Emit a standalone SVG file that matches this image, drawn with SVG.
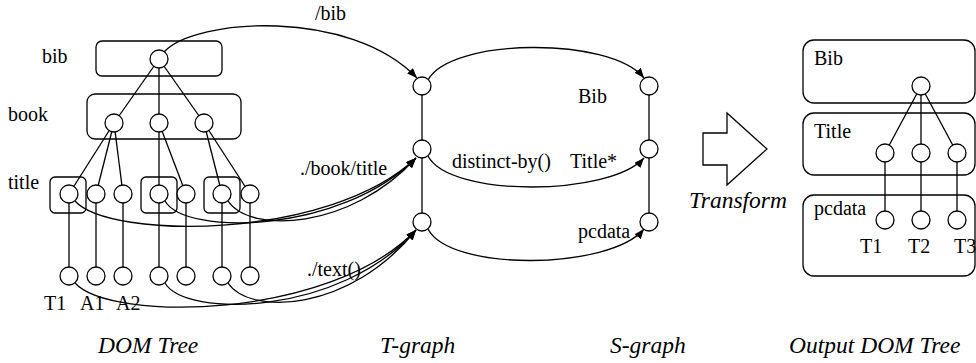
<svg xmlns="http://www.w3.org/2000/svg" width="976" height="363" viewBox="0 0 976 363">
<defs>
<marker id="ah" markerUnits="userSpaceOnUse" markerWidth="12" markerHeight="10" refX="10" refY="4" orient="auto">
<path d="M0,0 L10,4 L0,8 z" fill="#000"/>
</marker>
<style>
.t{font-size:20px;fill:#000}
.c{font-size:23.5px;font-style:italic;fill:#000}
.box{fill:none;stroke:#000;stroke-width:1.3}
.e{stroke:#000;stroke-width:1.3;fill:none}
.a{stroke:#000;stroke-width:1.3;fill:none;marker-end:url(#ah)}
.n{fill:#fff;stroke:#000;stroke-width:1.3}
</style>
</defs>
<rect width="976" height="363" fill="#fff"/>

<g id="dom-boxes">
<rect class="box" x="96" y="41" width="126" height="35" rx="6"/>
<rect class="box" x="87" y="94" width="154" height="45" rx="8"/>
<rect class="box" x="50" y="177" width="36" height="36" rx="5"/>
<rect class="box" x="141" y="177" width="36" height="36" rx="5"/>
<rect class="box" x="204" y="177" width="36" height="36" rx="5"/>
</g>
<g id="out-boxes">
<rect class="box" x="803" y="40" width="172" height="63" rx="11"/>
<rect class="box" x="803" y="113" width="172" height="62" rx="11"/>
<rect class="box" x="803" y="195" width="172" height="81" rx="11"/>
</g>

<g id="connectors">
<line class="e" x1="159" y1="59" x2="114" y2="123"/>
<line class="e" x1="159" y1="59" x2="159" y2="123"/>
<line class="e" x1="159" y1="59" x2="204" y2="123"/>
<line class="e" x1="114" y1="123" x2="69" y2="194"/>
<line class="e" x1="114" y1="123" x2="96" y2="194"/>
<line class="e" x1="114" y1="123" x2="123" y2="194"/>
<line class="e" x1="159" y1="123" x2="159" y2="194"/>
<line class="e" x1="159" y1="123" x2="186" y2="194"/>
<line class="e" x1="204" y1="123" x2="222" y2="194"/>
<line class="e" x1="204" y1="123" x2="250" y2="194"/>
<line class="e" x1="69" y1="194" x2="69" y2="276"/>
<line class="e" x1="96" y1="194" x2="96" y2="276"/>
<line class="e" x1="123" y1="194" x2="123" y2="276"/>
<line class="e" x1="159" y1="194" x2="159" y2="276"/>
<line class="e" x1="186" y1="194" x2="186" y2="276"/>
<line class="e" x1="222" y1="194" x2="222" y2="276"/>
<line class="e" x1="250" y1="194" x2="250" y2="276"/>
<line class="e" x1="422" y1="86" x2="422" y2="222"/>
<line class="e" x1="649" y1="86" x2="649" y2="222"/>
<line class="e" x1="921" y1="86" x2="885" y2="153"/>
<line class="e" x1="921" y1="86" x2="921" y2="153"/>
<line class="e" x1="921" y1="86" x2="957" y2="153"/>
<line class="e" x1="885" y1="153" x2="885" y2="220"/>
<line class="e" x1="921" y1="153" x2="921" y2="220"/>
<line class="e" x1="957" y1="153" x2="957" y2="220"/>
<path class="a" d="M164,52 C195,18 350,8 417,78"/>
<path class="a" d="M75,201 C110,240 330,240 416,158"/>
<path class="a" d="M165,201 C185,236 340,234 416,158"/>
<path class="a" d="M228,201 C250,234 350,230 416,158"/>
<path class="a" d="M75,283 C110,322 330,320 416,230"/>
<path class="a" d="M165,283 C185,318 340,316 416,230"/>
<path class="a" d="M228,283 C250,316 350,312 416,230"/>
<path class="a" d="M428,80 C450,38 610,36 644,78"/>
<path class="a" d="M428,156 C450,198 610,196 644,158"/>
<path class="a" d="M428,229 C450,272 610,270 644,229"/>
</g>

<g id="dom-bib"><circle class="n" cx="159" cy="59" r="9"/></g>
<g id="dom-book1"><circle class="n" cx="114" cy="123" r="9"/></g>
<g id="dom-book2"><circle class="n" cx="159" cy="123" r="9"/></g>
<g id="dom-book3"><circle class="n" cx="204" cy="123" r="9"/></g>
<g id="dom-t1"><circle class="n" cx="69" cy="194" r="9"/></g>
<g id="dom-t2"><circle class="n" cx="96" cy="194" r="9"/></g>
<g id="dom-t3"><circle class="n" cx="123" cy="194" r="9"/></g>
<g id="dom-t4"><circle class="n" cx="159" cy="194" r="9"/></g>
<g id="dom-t5"><circle class="n" cx="186" cy="194" r="9"/></g>
<g id="dom-t6"><circle class="n" cx="222" cy="194" r="9"/></g>
<g id="dom-t7"><circle class="n" cx="250" cy="194" r="9"/></g>
<g id="dom-l1"><circle class="n" cx="69" cy="276" r="9"/></g>
<g id="dom-l2"><circle class="n" cx="96" cy="276" r="9"/></g>
<g id="dom-l3"><circle class="n" cx="123" cy="276" r="9"/></g>
<g id="dom-l4"><circle class="n" cx="159" cy="276" r="9"/></g>
<g id="dom-l5"><circle class="n" cx="186" cy="276" r="9"/></g>
<g id="dom-l6"><circle class="n" cx="222" cy="276" r="9"/></g>
<g id="dom-l7"><circle class="n" cx="250" cy="276" r="9"/></g>
<g id="tg1"><circle class="n" cx="422" cy="86" r="9"/></g>
<g id="tg2"><circle class="n" cx="422" cy="149" r="9"/></g>
<g id="tg3"><circle class="n" cx="422" cy="222" r="9"/></g>
<g id="sg1"><circle class="n" cx="649" cy="86" r="9"/></g>
<g id="sg2"><circle class="n" cx="649" cy="149" r="9"/></g>
<g id="sg3"><circle class="n" cx="649" cy="222" r="9"/></g>
<g id="out-bib"><circle class="n" cx="921" cy="86" r="9"/></g>
<g id="out-t1"><circle class="n" cx="885" cy="153" r="9"/></g>
<g id="out-t2"><circle class="n" cx="921" cy="153" r="9"/></g>
<g id="out-t3"><circle class="n" cx="957" cy="153" r="9"/></g>
<g id="out-p1"><circle class="n" cx="885" cy="220" r="9"/></g>
<g id="out-p2"><circle class="n" cx="921" cy="220" r="9"/></g>
<g id="out-p3"><circle class="n" cx="957" cy="220" r="9"/></g>

<g id="transform-arrow">
<polygon points="703,133 727,133 727,113 767,149 727,185 727,165 703,165" fill="#fff" stroke="#000" stroke-width="1.3"/>
</g>

<g id="labels" font-family="'Liberation Serif', 'Times New Roman', 'DejaVu Serif', serif">
<text class="t" x="42" y="63">bib</text>
<text class="t" x="8" y="121">book</text>
<text class="t" x="8" y="189">title</text>
<text class="t" x="44" y="310">T1</text>
<text class="t" x="80" y="310">A1</text>
<text class="t" x="116" y="310">A2</text>
<text class="t" x="315" y="20">/bib</text>
<text class="t" x="300" y="175">./book/title</text>
<text class="t" x="307" y="276">./text()</text>
<text class="t" x="452" y="168">distinct-by()</text>
<text class="t" x="578" y="103">Bib</text>
<text class="t" x="570" y="168">Title*</text>
<text class="t" x="578" y="238">pcdata</text>
<text class="t" x="814" y="65">Bib</text>
<text class="t" x="814" y="138">Title</text>
<text class="t" x="814" y="215">pcdata</text>
<text class="t" x="860" y="253">T1</text>
<text class="t" x="908" y="253">T2</text>
<text class="t" x="954" y="253">T3</text>
<text class="c" x="689" y="208">Transform</text>
<text class="c" x="98" y="353">DOM Tree</text>
<text class="c" x="380" y="353">T-graph</text>
<text class="c" x="610" y="353">S-graph</text>
<text class="c" x="789" y="353">Output DOM Tree</text>
</g>
</svg>
